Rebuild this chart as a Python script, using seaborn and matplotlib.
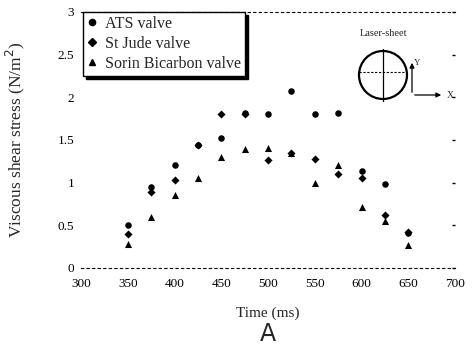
import numpy as np
import pandas as pd
import matplotlib
matplotlib.use("Agg")
import matplotlib.pyplot as plt
from matplotlib.lines import Line2D
from matplotlib.patches import Ellipse, FancyArrowPatch
import seaborn as sns

# Measurement times (ms)
times = [350, 375, 400, 425, 450, 475, 500, 525, 550, 575, 600, 625, 650]

# Viscous shear stress (N/m^2) per valve
ats_valve = [0.50, 0.95, 1.21, 1.44, 1.52, 1.82, 1.80, 2.07, 1.80, 1.82, 1.14, 0.98, 0.41]
st_jude_valve = [0.40, 0.89, 1.03, 1.44, 1.81, 1.80, 1.27, 1.35, 1.28, 1.10, 1.05, 0.62, 0.42]
sorin_valve = [0.28, 0.60, 0.86, 1.06, 1.30, 1.39, 1.41, 1.35, 1.00, 1.21, 0.71, 0.55, 0.27]

valve_names = ["ATS valve", "St Jude valve", "Sorin Bicarbon valve"]
valve_markers = {"ATS valve": "o", "St Jude valve": "D", "Sorin Bicarbon valve": "^"}

x_ticks = [300, 350, 400, 450, 500, 550, 600, 650, 700]
y_ticks = [0, 0.5, 1, 1.5, 2, 2.5, 3]
y_tick_labels = ["0", "0.5", "1", "1.5", "2", "2.5", "3"]

df = pd.DataFrame({
    "time": times * 3,
    "stress": ats_valve + st_jude_valve + sorin_valve,
    "valve": sum([[v] * len(times) for v in valve_names], []),
})

sns.set_style("white")
plt.rcParams["font.family"] = ["Liberation Serif", "DejaVu Serif"]

W, H = 472, 352
fig = plt.figure(figsize=(W / 100, H / 100), dpi=100)

def px_axes(x0, y0, x1, y1):
    return [x0 / W, 1 - y1 / H, (x1 - x0) / W, (y1 - y0) / H]

ax = fig.add_axes(px_axes(81, 12, 455, 268))

sizes = {"ATS valve": 22, "St Jude valve": 17, "Sorin Bicarbon valve": 26}
for name in valve_names:
    sub = df[df["valve"] == name]
    sns.scatterplot(data=sub, x="time", y="stress", marker=valve_markers[name],
                    color="black", s=sizes[name], linewidth=0, ax=ax, legend=False)

ax.set_xlim(300, 700)
ax.set_ylim(0, 3)
ax.set_xticks(x_ticks)
ax.set_xticklabels([str(t) for t in x_ticks])
ax.set_yticks(y_ticks)
ax.set_yticklabels(y_tick_labels)
ax.tick_params(axis="both", labelsize=9.5, colors="black")
ax.tick_params(axis="x", length=0, pad=7)
ax.tick_params(axis="y", length=2, width=1, direction="in", pad=5, right=True)

for side in ["left", "right"]:
    ax.spines[side].set_visible(False)
for side in ["top", "bottom"]:
    ax.spines[side].set_linestyle((0, (2, 3)))
    ax.spines[side].set_linewidth(0.8)
    ax.spines[side].set_color("black")

ax.set_xlabel("Time (ms)", fontsize=11, labelpad=12)
ax.set_ylabel("Viscous shear stress (N/m$^2$)", fontsize=12.5)
ax.yaxis.set_label_coords(-0.145, 0.5)

handles = [Line2D([], [], linestyle="none", marker=valve_markers[n], color="black",
                  markersize=4.5 if n != "St Jude valve" else 4) for n in valve_names]
leg = ax.legend(handles, valve_names, loc="upper left", bbox_to_anchor=(0.005, 1.0),
                borderaxespad=0, frameon=True, fancybox=False, fontsize=11.5,
                handlelength=0.7, handletextpad=0.45, labelspacing=0.25,
                borderpad=0.25, edgecolor="black",
                shadow={"color": "black", "alpha": 1.0})
leg.get_frame().set_linewidth(1.0)

# Valve cross-section sketch with laser sheet and coordinate arrows
ins = fig.add_axes(px_axes(350, 25, 460, 105))
ins.set_xlim(350, 460)
ins.set_ylim(105, 25)
ins.axis("off")
ins.text(384, 34, "Laser-sheet", ha="center", va="center", fontsize=7.5)
ins.add_patch(Ellipse((383, 75), 48, 48, fill=False, edgecolor="black", linewidth=1.6))
ins.plot([383, 383], [49, 101], color="black", linewidth=0.9)
ins.plot([359, 407], [72, 72], color="black", linewidth=0.8, linestyle=(0, (2, 1.5)))
ins.add_patch(FancyArrowPatch((412, 95), (412, 60), arrowstyle="-|>", mutation_scale=7,
                              color="black", linewidth=0.9))
ins.add_patch(FancyArrowPatch((412, 95), (444, 95), arrowstyle="-|>", mutation_scale=7,
                              color="black", linewidth=0.9))
ins.text(417, 63, "Y", fontsize=6.5, ha="center", va="center")
ins.text(450, 96, "X", fontsize=7, ha="center", va="center")

fig.text(268 / W, 1 - 334 / H, "A", ha="center", va="center", fontsize=17,
         family=["DejaVu Sans"])

fig.savefig("out.png", dpi=100)
